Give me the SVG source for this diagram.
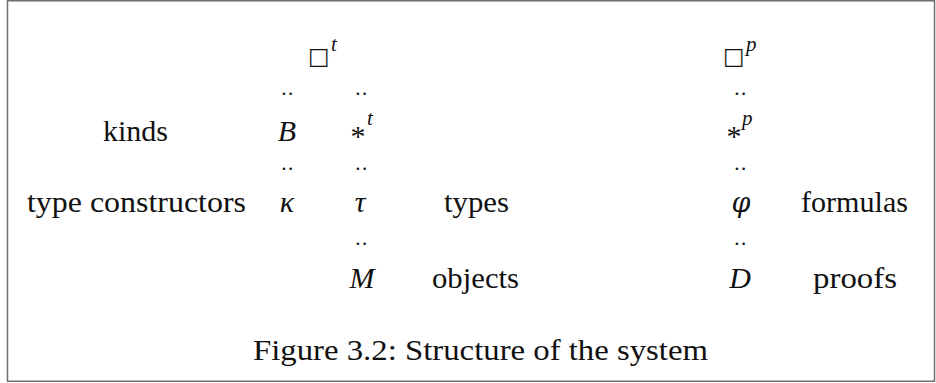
<svg xmlns="http://www.w3.org/2000/svg" width="936" height="383" viewBox="0 0 936 383">
<style>
text{font-family:"Liberation Serif","Times New Roman",serif;font-size:30px;fill:#111}
.m{font-style:italic}
.sup{font-style:italic;font-size:21px}
.c{text-anchor:middle}
.d{font-size:21px;letter-spacing:1.5px}
.box{font-family:"DejaVu Sans",sans-serif;font-size:23px}
.phi{font-family:"DejaVu Serif",serif;font-style:italic;font-size:27px}
</style>
<rect x="7.5" y="0.75" width="927" height="380.5" fill="#fff" stroke="#6e6e6e" stroke-width="1.5"/>
<g id="labels">
<text x="103" y="141" textLength="65" lengthAdjust="spacingAndGlyphs">kinds</text>
<text x="27" y="212" textLength="219" lengthAdjust="spacingAndGlyphs">type constructors</text>
<text x="444" y="212" textLength="65" lengthAdjust="spacingAndGlyphs">types</text>
<text x="432" y="288" textLength="87" lengthAdjust="spacingAndGlyphs">objects</text>
<text x="801" y="212" textLength="107" lengthAdjust="spacingAndGlyphs">formulas</text>
<text x="813" y="288" textLength="84" lengthAdjust="spacingAndGlyphs">proofs</text>
</g>
<g id="col-left">
<text x="288" y="95" class="c d">..</text>
<text x="287" y="141" class="c m">B</text>
<text x="288" y="170" class="c d">..</text>
<text x="287" y="212" class="c m">κ</text>
</g>
<g id="col-t">
<text x="308" y="64" class="box">□</text>
<text x="331" y="51" class="sup">t</text>
<text x="362" y="95" class="c d">..</text>
<text x="358" y="146" class="c">*</text>
<text x="367" y="125" class="sup">t</text>
<text x="362" y="170" class="c d">..</text>
<text x="360" y="212" class="c m">τ</text>
<text x="362" y="245" class="c d">..</text>
<text x="362" y="288" class="c m">M</text>
</g>
<g id="col-p">
<text x="723" y="64" class="box">□</text>
<text x="746" y="51" class="sup">p</text>
<text x="741" y="95" class="c d">..</text>
<text x="734" y="146" class="c">*</text>
<text x="742" y="125" class="sup">p</text>
<text x="741" y="170" class="c d">..</text>
<text x="741" y="212" class="c phi">φ</text>
<text x="741" y="245" class="c d">..</text>
<text x="740" y="288" class="c m">D</text>
</g>
<g id="caption">
<text x="253" y="360" textLength="455" lengthAdjust="spacingAndGlyphs">Figure 3.2: Structure of the system</text>
</g>
</svg>
